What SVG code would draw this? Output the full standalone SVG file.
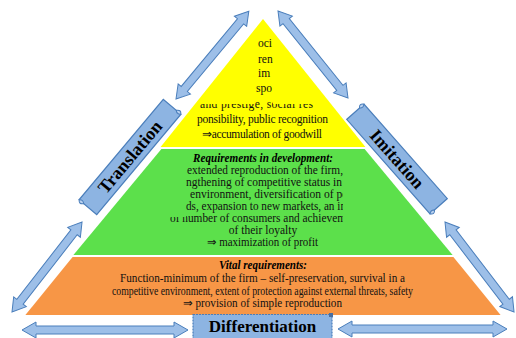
<svg xmlns="http://www.w3.org/2000/svg" width="516" height="338" viewBox="0 0 516 338">
  <style>
    .arrow { fill: #9DBFE8; stroke: #4A7EBB; stroke-width: 1; stroke-linejoin: miter; }
    .banner { fill: #8DB4E2; stroke: #4A7EBB; stroke-width: 1.2; }
    .curl { fill: #B8D0EE; stroke: #4A7EBB; stroke-width: 1; }
    .lbl { font-family: "Liberation Serif", "Times New Roman", serif; font-weight: bold; fill: #000; }
    .body { font-family: "Liberation Serif", "Times New Roman", serif; font-size: 11.5px; fill: #111; }
    .head { font-family: "Liberation Serif", "Times New Roman", serif; font-size: 11.5px; font-weight: bold; font-style: italic; fill: #000; }
  </style>
  <defs>
    <clipPath id="topClip">
      <rect x="254" y="30" width="19" height="75"/>
      <rect x="185" y="104" width="160" height="45"/>
    </clipPath>
    <clipPath id="midClip">
      <rect x="186" y="150" width="157" height="104"/>
      <rect x="168" y="217" width="30" height="10"/>
    </clipPath>
  </defs>

  <rect width="516" height="338" fill="#fff"/>

  <!-- pyramid tiers -->
  <g id="tier-top">
    <polygon points="263,19 365.4,147 160.6,147" fill="#FFFF00"/>
    <g clip-path="url(#topClip)">
      <text class="body" x="258" y="47">oci</text>
      <text class="body" x="258" y="63">ren</text>
      <text class="body" x="258" y="77">im</text>
      <text class="body" x="256" y="92">spo</text>
      <text class="body" x="200" y="107.5" textLength="113" lengthAdjust="spacing">and prestige, social res</text>
      <text class="body" x="197" y="123" textLength="131" lengthAdjust="spacing">ponsibility, public recognition</text>
      <text class="body" x="202" y="138" textLength="120" lengthAdjust="spacing">⇒accumulation of goodwill</text>
    </g>
  </g>

  <g id="tier-middle">
    <polygon points="161.4,149 364.6,149 452.6,255 73.4,255" fill="#5CE04B"/>
    <text class="head" x="263" y="162" text-anchor="middle" textLength="140" lengthAdjust="spacingAndGlyphs">Requirements in development:</text>
    <g clip-path="url(#midClip)">
      <text class="body" x="187" y="174" textLength="156" lengthAdjust="spacingAndGlyphs">extended reproduction of the firm,</text>
      <text class="body" x="186" y="186" textLength="162" lengthAdjust="spacingAndGlyphs">ngthening of competitive status in t</text>
      <text class="body" x="190" y="198" textLength="158" lengthAdjust="spacingAndGlyphs">environment, diversification of po</text>
      <text class="body" x="186" y="210" textLength="160" lengthAdjust="spacingAndGlyphs">ds, expansion to new markets, an in</text>
      <text class="body" x="170" y="222" textLength="176" lengthAdjust="spacingAndGlyphs">of number of consumers and achievem</text>
    </g>
    <text class="body" x="263" y="234" text-anchor="middle">of their loyalty</text>
    <text class="body" x="207" y="246" textLength="111" lengthAdjust="spacingAndGlyphs">⇒ maximization of profit</text>
  </g>

  <g id="tier-bottom">
    <polygon points="72.6,257 453.4,257 500.6,315 25.4,315" fill="#F79646"/>
    <text class="head" x="263" y="269" text-anchor="middle" textLength="88" lengthAdjust="spacingAndGlyphs">Vital requirements:</text>
    <text class="body" x="120" y="282" textLength="285" lengthAdjust="spacingAndGlyphs">Function-minimum of the firm – self-preservation, survival in a</text>
    <text class="body" x="112" y="295" textLength="301" lengthAdjust="spacingAndGlyphs" font-size="10.5">competitive environment, extent of protection against external threats, safety</text>
    <text class="body" x="183" y="307" textLength="159" lengthAdjust="spacingAndGlyphs">⇒ provision of simple reproduction</text>
  </g>

  <!-- labelled banners -->
  <g id="translation" transform="translate(130,157) rotate(-50)">
    <rect class="banner" x="-65.5" y="-11.5" width="131" height="23"/>
    <path class="curl" d="M-65.5,-11.5 q-4,3 0,6 q3,-3 0,-6 Z"/>
    <path class="curl" d="M65.5,11.5 q4,-3 0,-6 q-3,3 0,6 Z"/>
    <text class="lbl" x="0" y="6" font-size="18" text-anchor="middle">Translation</text>
  </g>

  <g id="imitation" transform="translate(397,159) rotate(48.6)">
    <rect class="banner" x="-63" y="-11.5" width="126" height="23"/>
    <path class="curl" d="M-63,-11.5 q-4,3 0,6 q3,-3 0,-6 Z"/>
    <path class="curl" d="M63,11.5 q4,-3 0,-6 q-3,3 0,6 Z"/>
    <text class="lbl" x="0" y="6" font-size="18" text-anchor="middle">Imitation</text>
  </g>

  <g id="differentiation">
    <rect class="banner" x="193" y="314.5" width="139" height="28" stroke-dasharray="2 1"/>
    <rect x="329" y="313" width="4" height="4" fill="#4A6FA0"/>
    <text class="lbl" x="262.5" y="331.5" font-size="17" text-anchor="middle">Differentiation</text>
  </g>

  <!-- double-headed connectors -->
  <g id="connectors">
    <path class="arrow" transform="translate(176,99) rotate(-50.3)" d="M0,0 L13,-8 L13,-4 L101,-4 L101,-8 L114,0 L101,8 L101,4 L13,4 L13,8 Z"/>
    <path class="arrow" transform="translate(278,11) rotate(51.2)" d="M0,0 L13,-8 L13,-4 L98.7,-4 L98.7,-8 L111.7,0 L98.7,8 L98.7,4 L13,4 L13,8 Z"/>
    <path class="arrow" transform="translate(12,312) rotate(-52.1)" d="M0,0 L13,-8 L13,-4 L101,-4 L101,-8 L114,0 L101,8 L101,4 L13,4 L13,8 Z"/>
    <path class="arrow" transform="translate(445,222) rotate(52.5)" d="M0,0 L13,-8 L13,-4 L100.4,-4 L100.4,-8 L113.4,0 L100.4,8 L100.4,4 L13,4 L13,8 Z"/>
    <path class="arrow" transform="translate(22,330)" d="M0,0 L14,-8 L14,-4 L152,-4 L152,-8 L166,0 L152,8 L152,4 L14,4 L14,8 Z"/>
    <path class="arrow" transform="translate(338,329)" d="M0,0 L14,-8 L14,-4 L155,-4 L155,-8 L169,0 L155,8 L155,4 L14,4 L14,8 Z"/>
  </g>
</svg>
